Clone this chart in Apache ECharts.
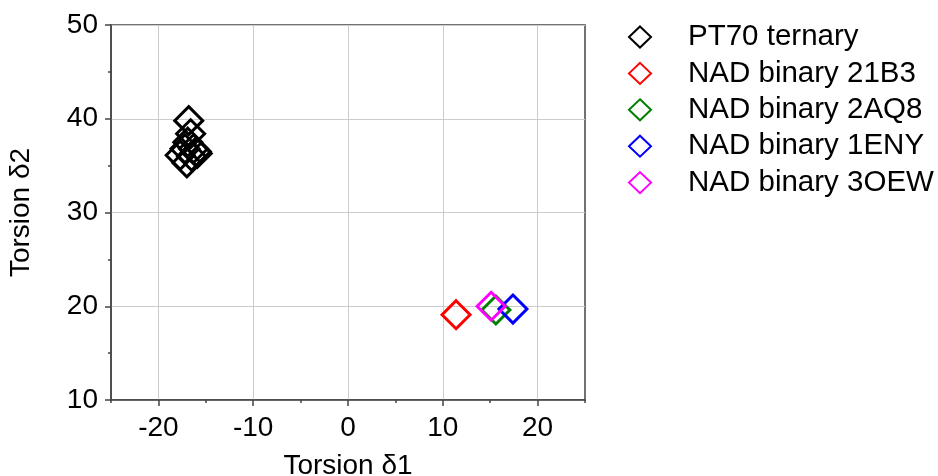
<!DOCTYPE html>
<html>
<head>
<meta charset="utf-8">
<script src="https://cdn.jsdelivr.net/npm/echarts@6/dist/echarts.min.js"></script>
<style>html,body{margin:0;padding:0;background:#fff;}#c{width:938px;height:476px;}</style>
</head>
<body>
<div id="c"></div>
<script>
const seriesNames = ['PT70 ternary', 'NAD binary 21B3', 'NAD binary 2AQ8', 'NAD binary 1ENY', 'NAD binary 3OEW'];
const seriesColors = ['#000000', '#ff0000', '#008000', '#0000ff', '#ff00ff'];
const pt70 = [[-16.8, 39.8], [-16.6, 38.4], [-16.9, 37.5], [-17.2, 36.8], [-16.3, 36.8], [-15.9, 36.3], [-17.7, 36.1], [-17.0, 35.3], [-16.5, 36.0], [-16.0, 36.5]];
const nad21B3 = [[11.4, 19.1]];
const nad2AQ8 = [[15.6, 19.6]];
const nad1ENY = [[17.4, 19.7]];
const nad3OEW = [[15.1, 20.0]];
const xMajorTicks = [-20, -10, 0, 10, 20];
const seriesData = [pt70, nad21B3, nad2AQ8, nad1ENY, nad3OEW];

const font = 'Liberation Sans, Arial, sans-serif';
const axisColor = '#444';
const chart = echarts.init(document.getElementById('c'));
chart.setOption({
  animation: false,
  backgroundColor: '#fff',
  grid: { left: 111, top: 25, width: 474, height: 375, outerBoundsMode: 'none', containLabel: false, show: true, borderColor: axisColor, borderWidth: 1.5, backgroundColor: 'transparent' },
  legend: {
    orient: 'vertical', left: 628, top: 22, padding: 0,
    itemWidth: 22, itemHeight: 21, itemGap: 6.4,
    icon: 'diamond',
    itemStyle: { color: 'rgba(0,0,0,0)', borderWidth: 2, opacity: 1 },
    textStyle: { fontFamily: font, fontSize: 29.5, color: '#000', lineHeight: 30, padding: [0, 0, 0, 32] },
    data: seriesNames
  },
  xAxis: [{
    type: 'value', min: -25, max: 25, interval: 5,
    axisLine: { show: true, onZero: false, lineStyle: { color: axisColor, width: 1.5 } },
    axisTick: { show: true, inside: false, length: 3, lineStyle: { color: axisColor, width: 1.5 } },
    axisLabel: { show: false },
    splitLine: { show: false }
  }, {
    type: 'value', min: -25, max: 25, position: 'bottom', offset: 0,
    name: 'Torsion δ1', nameLocation: 'middle', nameGap: 52,
    nameTextStyle: { fontFamily: font, fontSize: 28, color: '#000' },
    axisLine: { show: false, onZero: false },
    axisTick: { show: true, inside: false, length: 6, customValues: xMajorTicks, lineStyle: { color: axisColor, width: 1.5 } },
    axisLabel: { show: true, customValues: xMajorTicks, fontFamily: font, fontSize: 28, color: '#000', margin: 14 },
    splitLine: { show: true, lineStyle: { color: '#cccccc', width: 1 } }
  }],
  yAxis: {
    type: 'value', min: 10, max: 50, interval: 10,
    name: 'Torsion δ2', nameLocation: 'middle', nameGap: 76,
    nameTextStyle: { fontFamily: font, fontSize: 28, color: '#000' },
    axisLine: { show: true, onZero: false, lineStyle: { color: axisColor, width: 1.5 } },
    axisTick: { show: true, inside: false, length: 6, lineStyle: { color: axisColor, width: 1.5 } },
    minorTick: { show: true, splitNumber: 2, length: 3, lineStyle: { color: axisColor, width: 1.5 } },
    axisLabel: { fontFamily: font, fontSize: 28, color: '#000', margin: 13 },
    splitLine: { show: true, lineStyle: { color: '#cccccc', width: 1 } }
  },
  series: seriesNames.map((n, i) => ({
    name: n, type: 'scatter', xAxisIndex: 0,
    symbol: 'diamond', symbolSize: 28,
    itemStyle: { color: 'rgba(0,0,0,0)', borderColor: seriesColors[i], borderWidth: 3, opacity: 1 },
    emphasis: { disabled: true },
    data: seriesData[i]
  }))
});
</script>
</body>
</html>
